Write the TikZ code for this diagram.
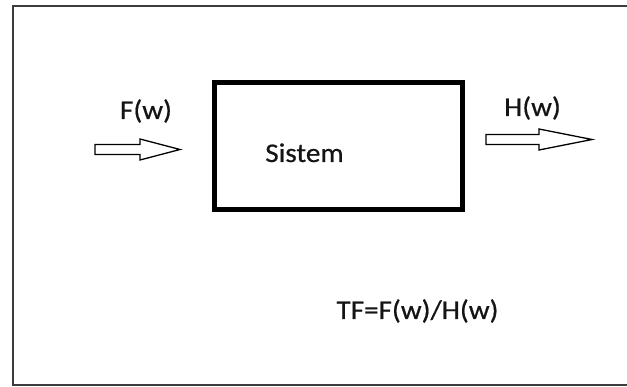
\documentclass[tikz,border=0pt]{standalone}
\usepackage{fontspec}
\newfontfamily\calib[FakeStretch=1.08,FakeBold=0.6]{Carlito}
\definecolor{framegray}{RGB}{60,60,60}
\definecolor{txt}{RGB}{20,20,20}
\begin{document}
\begin{tikzpicture}[x=1pt,y=-1pt,
  lbl/.style={anchor=base,inner sep=0pt,text=txt,font=\calib\fontsize{27}{31}\selectfont},
  blockarrow/.style={draw=black,fill=white,line width=1.3pt,line join=miter},
  sysbox/.style={draw=black,line width=5.5pt,minimum width=248pt,minimum height=127pt,inner sep=0pt}]
\useasboundingbox (0,0) rectangle (627,387);
% frame
\draw[framegray,line width=2pt] (627,5.8) -- (12.5,5.8) -- (12.5,385.5) -- (627,385.5);
% system box
\node[sysbox] (sys) at (338.5,146) {};
\node[lbl] (sistem) at (304.5,162) {Sistem};
% input arrow
\coordinate (inS) at (95,149.5);
\coordinate (inT) at (180,149.5);
\draw[blockarrow] (95,144.5) -- (140,144.5) -- (140,139) -- (inT) -- (140,160) -- (140,154.5) -- (95,154.5) -- cycle;
\node[lbl] (F) at (146,119) {F(w)};
% output arrow
\coordinate (outS) at (486,139.5);
\coordinate (outT) at (592,139.5);
\draw[blockarrow] (486,134.5) -- (539,134.5) -- (539,129) -- (outT) -- (539,150) -- (539,144.5) -- (486,144.5) -- cycle;
\node[lbl] (H) at (532.5,116) {H(w)};
% formula
\node[lbl] (tf) at (417.5,319) {TF=F(w)/H(w)};
\end{tikzpicture}
\end{document}
